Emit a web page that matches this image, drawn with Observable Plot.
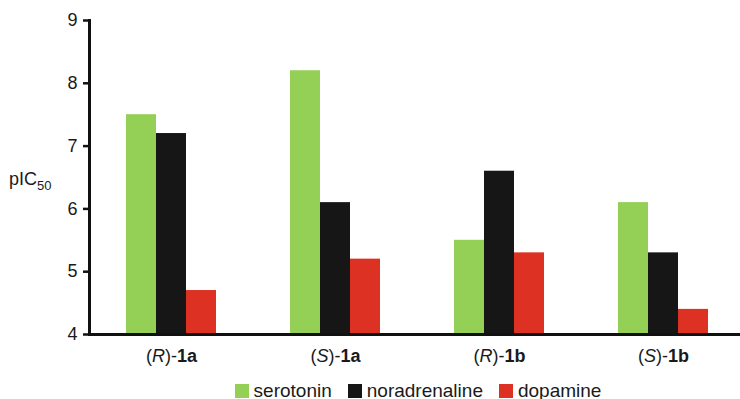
<!DOCTYPE html>
<html><head><meta charset="utf-8">
<script src="https://cdn.jsdelivr.net/npm/d3@7"></script>
<script src="https://cdn.jsdelivr.net/npm/@observablehq/plot@0.6"></script>
<style>
body{margin:0;background:#fff;font-family:"Liberation Sans",Arial,sans-serif;}
#chart{width:740px;height:399px;overflow:hidden;}
.lg-swatches{justify-content:center;font-family:"Liberation Sans",Arial,sans-serif !important;font-size:19px !important;color:#1a1a1a;padding-left:112px;margin:0 !important;height:33px;min-height:0 !important;}
.lg-swatch{margin-right:16px !important;}
.lg-swatch > svg{margin-right:5px !important;}
</style></head><body><div id="chart"></div>
<script>
const compounds = ["(R)-1a", "(S)-1a", "(R)-1b", "(S)-1b"];
const transporters = ["serotonin", "noradrenaline", "dopamine"];
const serotonin = [7.5, 8.2, 5.5, 6.1];
const noradrenaline = [7.2, 6.1, 6.6, 5.3];
const dopamine = [4.7, 5.2, 5.3, 4.4];
const yTicks = [4, 5, 6, 7, 8, 9];
const colors = ["#94d056", "#161616", "#dd3124"];
const yLabel = "pIC";
const yLabelSub = "50";

const series = {serotonin, noradrenaline, dopamine};
const data = transporters.flatMap(t => compounds.map((c, i) => ({compound: c, transporter: t, value: series[t][i]})));

const plot = Plot.plot({
  width: 740, height: 374,
  marginTop: 20, marginBottom: 40, marginLeft: 88, marginRight: -6,
  style: {fontFamily: "Liberation Sans, Arial, sans-serif", fontSize: "18px", color: "#1a1a1a", background: "#fff", overflow: "visible"},
  fx: {domain: compounds, padding: 0, label: null},
  x: {domain: transporters, paddingInner: 0, paddingOuter: 1.15, axis: null},
  y: {domain: [4, 9], axis: null},
  color: {domain: transporters, range: colors},
  marks: [
    Plot.barY(data, {fx: "compound", x: "transporter", y1: 4, y2: "value", fill: "transporter"}),
    Plot.ruleY([4], {stroke: "#111", strokeWidth: 3}),
    Plot.frame({anchor: "left", facetAnchor: "left", stroke: "#111", strokeWidth: 3}),
    Plot.axisY(yTicks, {anchor: "left", tickSize: 6, tickPadding: 6, strokeWidth: 2.5, stroke: "#111", label: null, fontSize: 18, tickFormat: d => String(d)}),
    Plot.axisFx({anchor: "bottom", tickSize: 0, tickPadding: 15, label: null, fontSize: 18})
  ]
});

const svg = d3.select(plot.tagName.toLowerCase() === "svg" ? plot : plot.querySelector("svg"));
svg.selectAll('g[aria-label="fx-axis tick label"] text').each(function() {
  const s = this.textContent;
  const m = s.match(/^\((\w)\)-(.*)$/);
  if (!m) return;
  const t = d3.select(this);
  t.text(null);
  t.append("tspan").text("(");
  t.append("tspan").attr("font-style", "italic").text(m[1]);
  t.append("tspan").text(")-");
  t.append("tspan").attr("font-weight", "bold").text(m[2]);
});
const yScale = plot.scale("y");
const lab = svg.append("text")
  .attr("x", 9).attr("y", yScale.apply(6.5) + 8)
  .attr("text-anchor", "start")
  .attr("font-size", 18).attr("fill", "#1a1a1a");
lab.append("tspan").text(yLabel);
lab.append("tspan").attr("font-size", 13).attr("dy", 5).text(yLabelSub);

const legend = Plot.legend({
  color: {domain: transporters, range: colors},
  legend: "swatches", swatchSize: 14, className: "lg"
});

const chart = document.getElementById("chart");
chart.appendChild(plot);
chart.appendChild(legend);
</script></body></html>
